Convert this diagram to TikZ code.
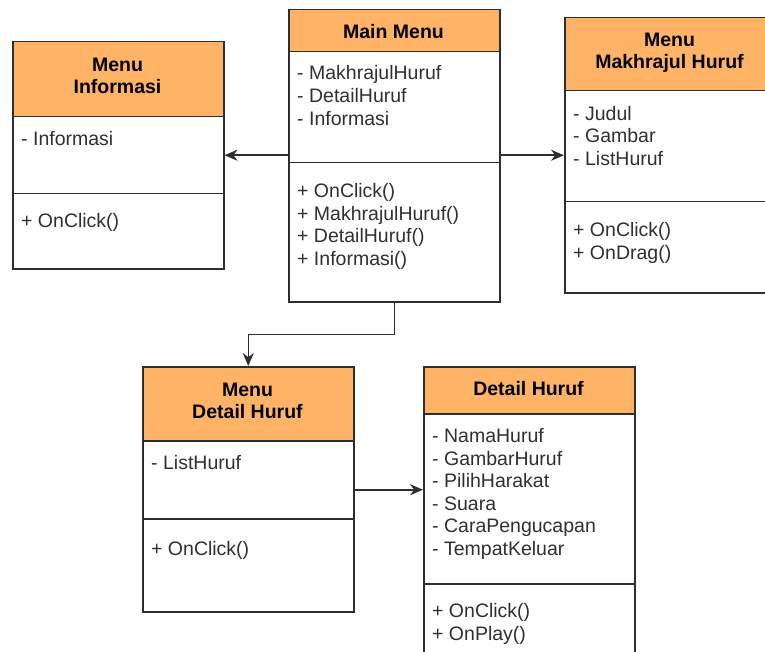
\documentclass[tikz,border=0pt]{standalone}
\usepackage{fontspec}
\setmainfont{Liberation Sans}
\usetikzlibrary{arrows.meta}
\definecolor{orangef}{HTML}{FFB366}
\definecolor{linec}{HTML}{2E2E2E}
\definecolor{txt}{HTML}{303030}
\begin{document}
\begin{tikzpicture}[x=1pt,y=-1pt,
  comp/.style={draw=linec, line width=1.5pt, inner sep=0pt, anchor=north west},
  hdr/.style={comp, fill=orangef},
  title/.style={inner sep=0pt, align=center, text=black, font=\bfseries\fontsize{19.5}{22.4}\selectfont},
  item/.style={inner sep=0pt, anchor=west, text=txt, text height=14pt, text depth=4pt, font=\fontsize{19.5}{22.4}\selectfont},
  arr/.style={draw=linec, line width=1.5pt, -{Stealth[length=13pt,width=11pt]}}]
\useasboundingbox (0,0) rectangle (765,652);
\clip (0,0) rectangle (765,652);
\fill[white] (0,0) rectangle (765,652);

% Menu Informasi
\node[hdr,  minimum width=211pt, minimum height=75pt]  (infH) at (12,41) {};
\node[comp, minimum width=211pt, minimum height=77pt]  (infA) at (12,116) {};
\node[comp, minimum width=211pt, minimum height=75pt]  (infO) at (12,193) {};
\node[title] (infT) at (117.5,76) {Menu\\Informasi};
\node[item] (infA1) at (21,140.5) {- Informasi};
\node[item] (infO1) at (21,222.5) {+ OnClick()};

% Main Menu
\node[hdr,  minimum width=211pt, minimum height=42pt]  (mmH) at (288,9) {};
\node[comp, minimum width=211pt, minimum height=111pt] (mmA) at (288,51) {};
\node[comp, minimum width=211pt, minimum height=139pt] (mmO) at (288,162) {};
\node[title] (mmT) at (393.5,31.5) {Main Menu};
\foreach \t [count=\i] in {- MakhrajulHuruf, - DetailHuruf, - Informasi}
  \node[item] (mmA\i) at (297,{74.5+22.8*(\i-1)}) {\t};
\foreach \t [count=\i] in {+ OnClick(), + MakhrajulHuruf(), + DetailHuruf(), + Informasi()}
  \node[item] (mmO\i) at (297,{192.5+22.6*(\i-1)}) {\t};

% Menu Makhrajul Huruf
\node[hdr,  minimum width=211pt, minimum height=73pt]  (mkH) at (564,17) {};
\node[comp, minimum width=211pt, minimum height=111pt] (mkA) at (564,90) {};
\node[comp, minimum width=211pt, minimum height=91pt]  (mkO) at (564,201) {};
\node[title] (mkT) at (669.5,53) {Menu\\Makhrajul Huruf};
\foreach \t [count=\i] in {- Judul, - Gambar, - ListHuruf}
  \node[item] (mkA\i) at (573,{115.5+22.5*(\i-1)}) {\t};
\foreach \t [count=\i] in {+ OnClick(), + OnDrag()}
  \node[item] (mkO\i) at (573,{231.5+22.5*(\i-1)}) {\t};

% Menu Detail Huruf
\node[hdr,  minimum width=211pt, minimum height=74pt]  (mdH) at (142,366) {};
\node[comp, minimum width=211pt, minimum height=78pt]  (mdA) at (142,440) {};
\node[comp, minimum width=211pt, minimum height=93pt]  (mdO) at (142,518) {};
\node[title] (mdT) at (247.5,401) {Menu\\Detail Huruf};
\node[item] (mdA1) at (151,464.5) {- ListHuruf};
\node[item] (mdO1) at (151,550.5) {+ OnClick()};

% Detail Huruf
\node[hdr,  minimum width=211pt, minimum height=47pt]  (dhH) at (423,366) {};
\node[comp, minimum width=211pt, minimum height=170pt] (dhA) at (423,413) {};
\node[comp, minimum width=211pt, minimum height=100pt] (dhO) at (423,583) {};
\node[title] (dhT) at (528.5,389) {Detail Huruf};
\foreach \t [count=\i] in {- NamaHuruf, - GambarHuruf, - PilihHarakat, - Suara, - CaraPengucapan, - TempatKeluar}
  \node[item] (dhA\i) at (432,{437.5+22.6*(\i-1)}) {\t};
\foreach \t [count=\i] in {+ OnClick(), + OnPlay()}
  \node[item] (dhO\i) at (432,{612.5+22.5*(\i-1)}) {\t};

% Connectors
\coordinate (mdOut) at ([yshift=-10pt]mdA.east);
\draw[arr] (mmA.west |- infA.east) -- (infA.east);
\draw[arr] (mmA.east |- infA.east) -- (mkA.west |- infA.east);
\draw[arr] (mmO.south) -- ++(0,32) -| (mdH.north);
\draw[arr] (mdOut) -- (dhA.west |- mdOut);
\end{tikzpicture}
\end{document}
